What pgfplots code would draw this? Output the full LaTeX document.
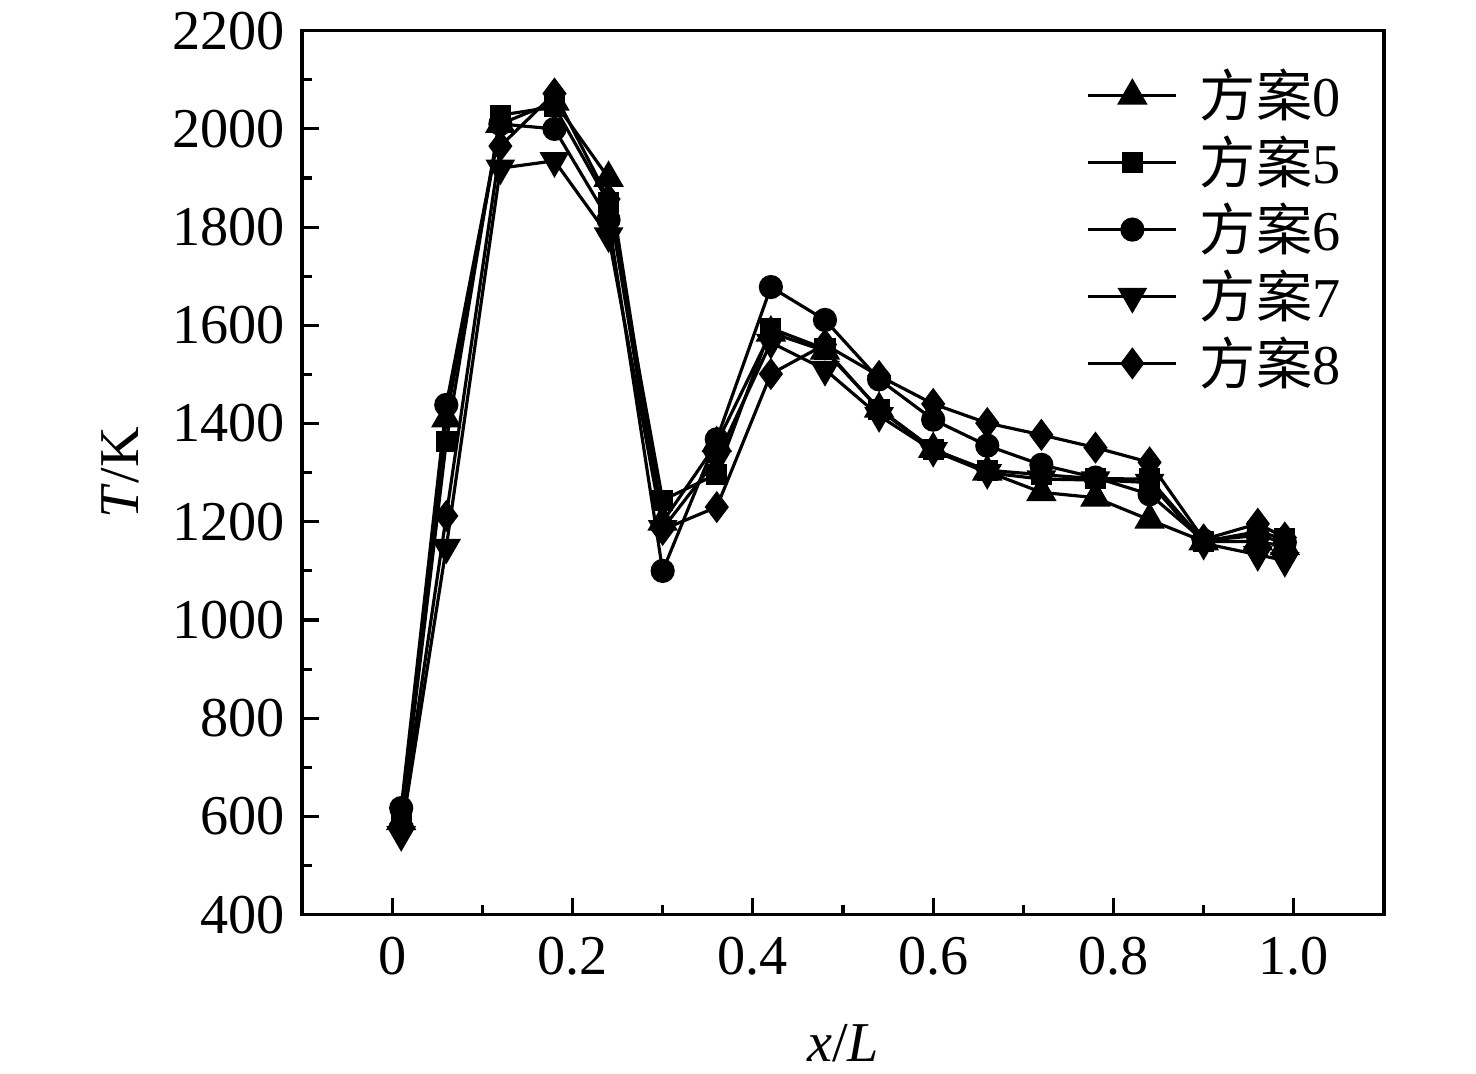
\documentclass[border=0pt]{standalone}
\usepackage{pgfplots}
\pgfplotsset{compat=1.18}
\usepackage{fontspec}
\setmainfont{Liberation Serif}
\newfontfamily\cjk{Noto Sans CJK SC}
\begin{document}
\begin{tikzpicture}
\begin{axis}[
  name=ax,
  scale only axis,
  width=108.2mm, height=88.4mm,
  xmin=-0.1, xmax=1.1, ymin=400, ymax=2200,
  axis line style={line width=0.9pt},
  every tick/.style={line width=0.9pt, black},
  tick align=inside,
  xtick pos=bottom, ytick pos=left,
  major tick length=1.7mm, minor tick length=1mm,
  xtick={0,0.2,0.4,0.6,0.8,1.0},
  xticklabels={0,0.2,0.4,0.6,0.8,1.0},
  minor x tick num=1,
  ytick={400,600,...,2200},
  minor y tick num=1,
  /pgf/number format/assume math mode=true,
  tick label style={font=\fontsize{16}{19}\selectfont},
  xticklabel style={yshift=-1mm},
  yticklabel style={/pgf/number format/1000 sep={}, xshift=-0.5mm},
  xlabel={\textit{x}/\textit{L}},
  ylabel={\textit{T}/K},
  every axis x label/.style={at={(axis description cs:0.5,-0.145)}, anchor=center, font=\fontsize{16}{19}\selectfont},
  every axis y label/.style={at={(axis description cs:-0.168,0.5)}, rotate=90, anchor=center, font=\fontsize{16}{19}\selectfont},
  legend style={draw=none, fill=none, inner sep=0pt, at={(rel axis cs:0.967,0.965)}, anchor=north east,
    font=\fontsize{16}{19}\selectfont, row sep=0mm, column sep=1.5mm, cells={anchor=west}},
  legend image code/.code={\draw[mark repeat=2, mark phase=2, #1] plot coordinates {(0mm,0mm) (4.4mm,0mm) (8.8mm,0mm)};},
  every axis plot/.append style={line width=0.9pt, black},
]
% 方案0
\addplot[mark=triangle*, mark size=1.45mm] coordinates {
(0.01,590) (0.06,1410) (0.12,2010) (0.18,2055) (0.24,1900) (0.30,1200) (0.36,1360) (0.42,1585) (0.48,1548) (0.54,1430) (0.60,1348) (0.66,1302) (0.72,1260) (0.78,1249) (0.84,1204) (0.90,1160) (0.96,1160) (0.99,1150)};
\addlegendentry{{\cjk 方案}0}
% 方案5
\addplot[mark=square*, mark size=0.9mm] coordinates {
(0.01,590) (0.06,1363) (0.12,2028) (0.18,2045) (0.24,1850) (0.30,1244) (0.36,1297) (0.42,1594) (0.48,1552) (0.54,1428) (0.60,1347) (0.66,1305) (0.72,1296) (0.78,1288) (0.84,1287) (0.90,1160) (0.96,1180) (0.99,1165)};
\addlegendentry{{\cjk 方案}5}
% 方案6
\addplot[mark=*, mark size=1.05mm] coordinates {
(0.01,617) (0.06,1438) (0.12,2010) (0.18,2000) (0.24,1815) (0.30,1100) (0.36,1368) (0.42,1678) (0.48,1611) (0.54,1490) (0.60,1408) (0.66,1355) (0.72,1316) (0.78,1290) (0.84,1256) (0.90,1162) (0.96,1172) (0.99,1158)};
\addlegendentry{{\cjk 方案}6}
% 方案7
\addplot[mark=triangle*, mark options={rotate=180}, mark size=1.4mm] coordinates {
(0.01,563) (0.06,1148) (0.12,1920) (0.18,1935) (0.24,1782) (0.30,1186) (0.36,1328) (0.42,1565) (0.48,1510) (0.54,1416) (0.60,1345) (0.66,1300) (0.72,1287) (0.78,1285) (0.84,1280) (0.90,1156) (0.96,1133) (0.99,1121)};
\addlegendentry{{\cjk 方案}7}
% 方案8
\addplot[mark=diamond*, mark size=1.35mm] coordinates {
(0.01,585) (0.06,1212) (0.12,1965) (0.18,2072) (0.24,1857) (0.30,1184) (0.36,1230) (0.42,1501) (0.48,1561) (0.54,1497) (0.60,1440) (0.66,1401) (0.72,1377) (0.78,1351) (0.84,1321) (0.90,1164) (0.96,1196) (0.99,1168)};
\addlegendentry{{\cjk 方案}8}
\end{axis}
\path ([shift={(-30.2mm,-15.9mm)}]ax.south west) rectangle ([shift={(9.2mm,2.8mm)}]ax.north east);
\end{tikzpicture}
\end{document}
